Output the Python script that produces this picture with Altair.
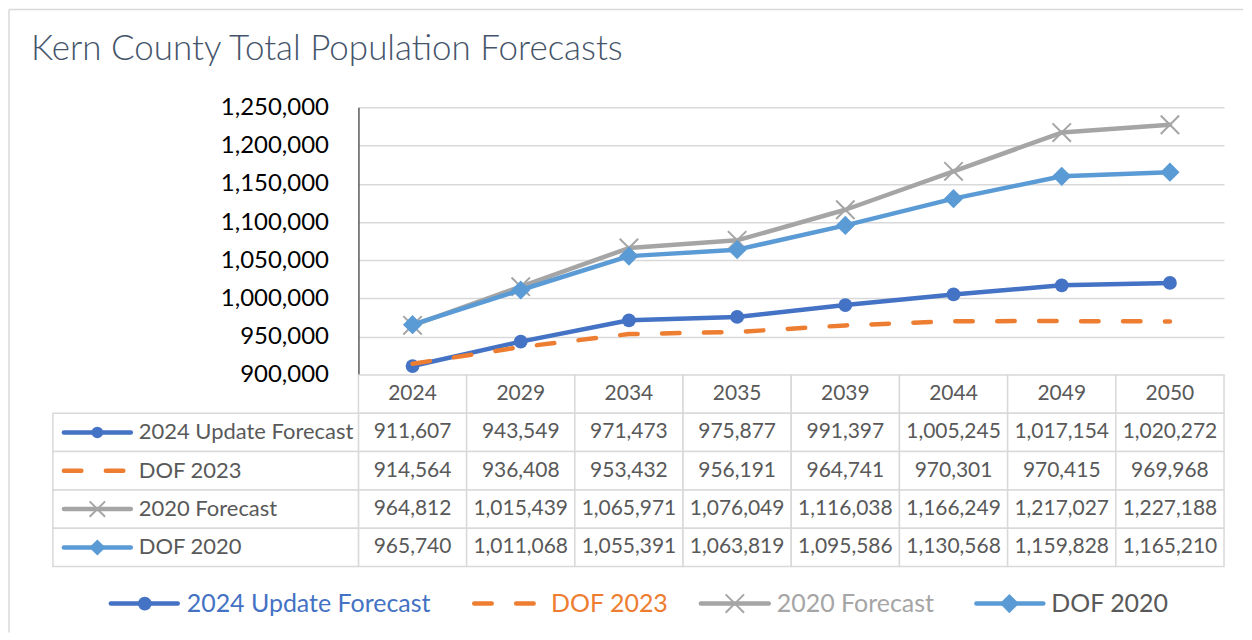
import altair as alt
import pandas as pd

# ---------------- data ----------------
years = ["2024", "2029", "2034", "2035", "2039", "2044", "2049", "2050"]
series = ["2024 Update Forecast", "DOF 2023", "2020 Forecast", "DOF 2020"]
update_2024 = [911607, 943549, 971473, 975877, 991397, 1005245, 1017154, 1020272]
dof_2023 = [914564, 936408, 953432, 956191, 964741, 970301, 970415, 969968]
forecast_2020 = [964812, 1015439, 1065971, 1076049, 1116038, 1166249, 1217027, 1227188]
dof_2020 = [965740, 1011068, 1055391, 1063819, 1095586, 1130568, 1159828, 1165210]
y_ticks = [900000, 950000, 1000000, 1050000, 1100000, 1150000, 1200000, 1250000]
title_text = ["Kern County Total Population Forecasts"]

values = [update_2024, dof_2023, forecast_2020, dof_2020]
df = pd.DataFrame(
    [{"series": s, "year": y, "value": v}
     for s, vals in zip(series, values) for y, v in zip(years, vals)]
)

# ---------------- styles ----------------
FONT = "Lato"
W = 867
H_TOP = 268
H_TAB = 192
colors = ["#4472C4", "#ED7D31", "#A5A5A5", "#5B9BD5"]
legend_text_colors = ["#4472C4", "#ED7D31", "#A5A5A5", "#595959"]
X_PATH = "M-1,-1L1,1M-1,1L1,-1"
DASH = [17.5, 24.5]
LINE_W = 4.5
GRID = "#D9D9D9"
TXT = "#595959"


def marker_mark(chart, idx, scale=1.0):
    c = colors[idx]
    if idx == 0:
        return chart.mark_point(shape="circle", filled=True, size=190 * scale,
                                color=c, opacity=1)
    if idx == 2:
        return chart.mark_point(shape=X_PATH, filled=False, size=340 * scale,
                                color=c, strokeWidth=2, opacity=1)
    if idx == 3:
        return chart.mark_point(shape="diamond", filled=True, size=370 * scale,
                                color=c, opacity=1)
    return None


def line_kwargs(idx):
    kw = dict(color=colors[idx], strokeWidth=LINE_W, strokeCap="round",
              strokeJoin="round")
    if idx == 1:
        kw["strokeDash"] = DASH
    return kw


# ---------------- top: line chart ----------------
base = alt.Chart(df)
x_pt = alt.X("year:N", sort=years,
             scale=alt.Scale(type="point", domain=years, padding=0.5), axis=None)
y_val = alt.Y(
    "value:Q",
    scale=alt.Scale(domain=[900000, 1250000], nice=False, zero=False),
    axis=alt.Axis(values=y_ticks, labelExpr="format(datum.value, ',')",
                  labelFont=FONT, labelFontSize=24,
                  labelColor="#000000", labelPadding=30, ticks=False,
                  grid=True, gridColor=GRID, gridWidth=1.5,
                  domain=True, domainColor="#595959", domainWidth=1.5,
                  labelFlush=False, labelOverlap=False, title=None),
)

frame_df = pd.DataFrame({"k": [0]})
frame_top = alt.Chart(frame_df).mark_rule(color=GRID, strokeWidth=1.5).encode(
    x=alt.value(-350), x2=alt.value(886), y=alt.value(-98))
frame_left = alt.Chart(frame_df).mark_rule(color=GRID, strokeWidth=1.5).encode(
    x=alt.value(-350), y=alt.value(-98), y2=alt.value(526))
title = alt.Chart(pd.DataFrame({"t": title_text})).mark_text(
    font=FONT, fontSize=35, fontWeight=300, color="#44546A",
    align="left", baseline="alphabetic").encode(
    x=alt.value(-328), y=alt.value(-47), text="t:N")

top_layers = [frame_top, frame_left, title]
for i, s in enumerate(series):
    d = base.transform_filter(alt.datum.series == s)
    top_layers.append(d.mark_line(**line_kwargs(i)).encode(x=x_pt, y=y_val))
    m = marker_mark(d, i)
    if m is not None:
        top_layers.append(m.encode(x=x_pt, y=y_val))

top = alt.layer(*top_layers).properties(width=W, height=H_TOP)

# ---------------- bottom: data table + legend ----------------
rows = ["hdr"] + series
grid_df = pd.DataFrame([{"tbl_row": r, "year": y} for r in rows for y in years])
hdr_df = pd.DataFrame({"tbl_row": ["hdr"] * len(years), "year": years})
lab_df = pd.DataFrame({"tbl_row": series, "series": series})
tab_df = df.rename(columns={"series": "tbl_row"})

x_band = alt.X("year:N", sort=years,
               scale=alt.Scale(domain=years, paddingInner=0, paddingOuter=0),
               axis=None)
x_band_c = alt.X("year:N", sort=years, bandPosition=0.5,
                 scale=alt.Scale(domain=years, paddingInner=0, paddingOuter=0),
                 axis=None)
y_band = alt.Y("tbl_row:N", sort=rows,
               scale=alt.Scale(domain=rows, paddingInner=0, paddingOuter=0),
               axis=None)
y_band_c = alt.Y("tbl_row:N", sort=rows, bandPosition=0.5,
                 scale=alt.Scale(domain=rows, paddingInner=0, paddingOuter=0),
                 axis=None)

TAB_FS = 21

cells = alt.Chart(grid_df).mark_rect(fill="white", stroke=GRID, strokeWidth=1.5).encode(
    x=x_band, y=y_band)
left_cells = alt.Chart(lab_df).mark_rect(fill="white", stroke=GRID, strokeWidth=1.5).encode(
    x=alt.value(-306), x2=alt.value(0), y=y_band)
hdr_text = alt.Chart(hdr_df).mark_text(font=FONT, fontSize=TAB_FS, color=TXT,
                                       baseline="middle", align="center").encode(
    x=x_band_c, y=y_band_c, text="year:N")
val_text = alt.Chart(tab_df).mark_text(font=FONT, fontSize=TAB_FS, color=TXT,
                                       baseline="middle", align="center").encode(
    x=x_band_c, y=y_band_c, text=alt.Text("value:Q", format=","))
lab_text = alt.Chart(lab_df).mark_text(font=FONT, fontSize=22, color=TXT,
                                       baseline="middle", align="left").encode(
    x=alt.value(-220), y=y_band_c, text="series:N")

tab_layers = [cells, left_cells, hdr_text, val_text, lab_text]

# symbols inside the table's label column
for i, s in enumerate(series):
    d = alt.Chart(lab_df).transform_filter(alt.datum.series == s)
    x_end = -235 if i == 1 else -228
    tab_layers.append(d.mark_rule(**line_kwargs(i)).encode(
        x=alt.value(-295), x2=alt.value(x_end), y=y_band_c))
    m = marker_mark(d, i, scale=0.7)
    if m is not None:
        tab_layers.append(m.encode(x=alt.value(-261.5), y=y_band_c))

# bottom legend (line + marker symbols, coloured labels)
LEG_Y = 229
leg_rule = [(-248, -181), (116, 176), (343, 411), (619, 686)]
leg_mark = [-214, None, 377, 652]
leg_text = [-172, 193, 419, 694]
leg_df = pd.DataFrame({"series": series})
for i, s in enumerate(series):
    d = alt.Chart(leg_df).transform_filter(alt.datum.series == s)
    tab_layers.append(d.mark_rule(**line_kwargs(i)).encode(
        x=alt.value(leg_rule[i][0]), x2=alt.value(leg_rule[i][1]), y=alt.value(LEG_Y)))
    m = marker_mark(d, i)
    if m is not None:
        tab_layers.append(m.encode(x=alt.value(leg_mark[i]), y=alt.value(LEG_Y)))
    tab_layers.append(d.mark_text(font=FONT, fontSize=25, color=legend_text_colors[i],
                                  align="left", baseline="middle").encode(
        x=alt.value(leg_text[i]), y=alt.value(LEG_Y), text="series:N"))

table = alt.layer(*tab_layers).properties(width=W, height=H_TAB)

chart = (
    alt.vconcat(top, table, spacing=0, bounds="flush")
    .resolve_scale(x="independent", y="independent")
    .properties(padding=0, background="white")
    .configure_view(stroke=None)
)

chart.save("out.html", embed_options={"renderer": "svg", "actions": False})
